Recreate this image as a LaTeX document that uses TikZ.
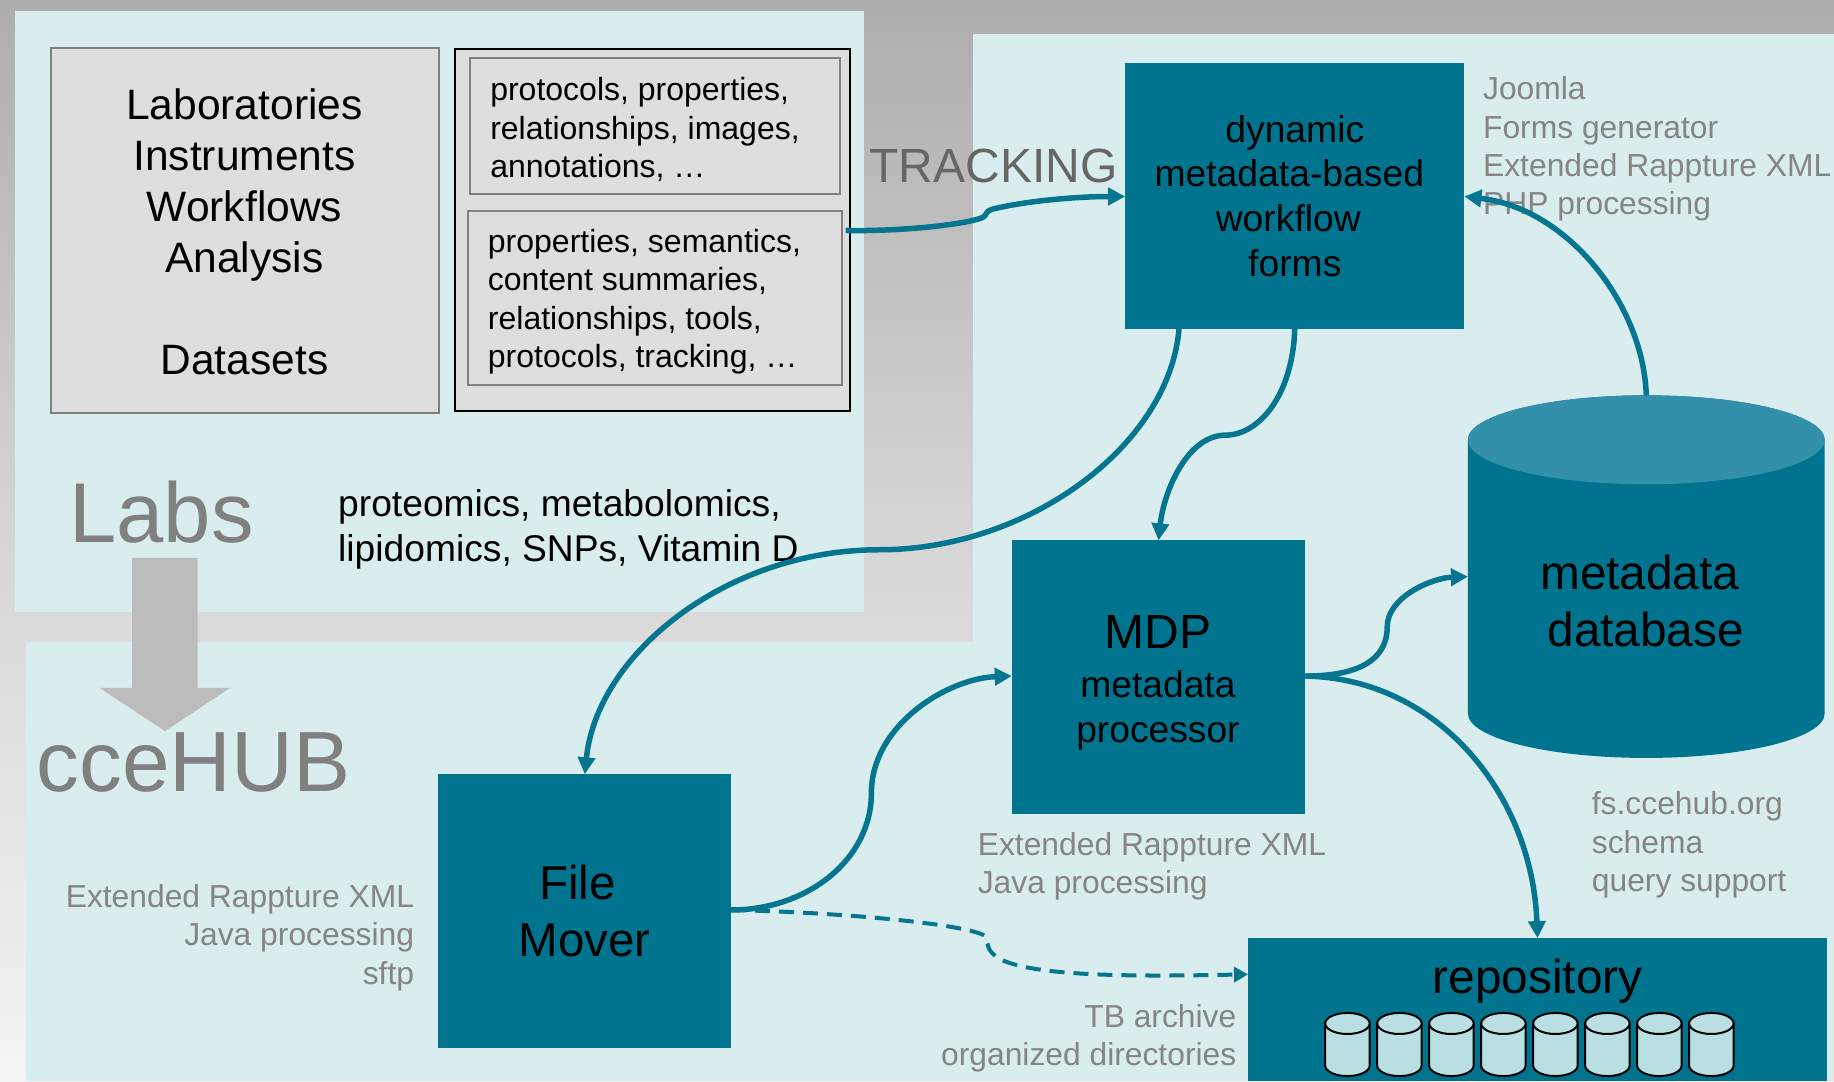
\documentclass[tikz,border=0pt]{standalone}
\usepackage{fontspec}
\setmainfont{Liberation Sans}
\usetikzlibrary{arrows.meta,calc}
\definecolor{panel}{HTML}{D9ECEE}
\definecolor{teal}{HTML}{00748F}
\definecolor{tealtop}{HTML}{3390AB}
\definecolor{flow}{HTML}{06758F}
\definecolor{boxgray}{HTML}{DEDEDE}
\definecolor{edgegray}{HTML}{808080}
\definecolor{note}{HTML}{858585}
\definecolor{bigarrow}{HTML}{BCBCBC}
\definecolor{minicyl}{HTML}{B9DFE2}
\definecolor{bgtop}{HTML}{ADADAD}
\definecolor{bgmid}{HTML}{D6D6D6}
\definecolor{bgbot}{HTML}{F4F4F4}
\tikzset{
  bx/.style n args={4}{anchor=north west,at={(#1,#2)},inner sep=0pt,outer sep=0pt,
    minimum width={1.1696*(#3-#1)*1pt},minimum height={1.1696*(#4-#2)*1pt}},
  graybox/.style={fill=boxgray,draw=edgegray,line width=2pt},
  blackbox/.style={fill=boxgray,draw=black,line width=2pt},
  tealbox/.style={fill=teal,text=black,align=center},
  inlist/.style={anchor=west,align=left,inner sep=0pt,font=\fontsize{32}{38.5}\selectfont},
  notes/.style={text=note,font=\fontsize{31.8}{38.4}\selectfont,inner sep=0pt,outer sep=0pt},
  flowline/.style={draw=flow,line width=5.5pt,-{Triangle[length=17pt,width=17pt]}},
}
\begin{document}
\begin{tikzpicture}[x=1.1696pt,y=-1.1696pt]
\useasboundingbox (0,0) rectangle (1568,924.25);
% background and panels
\shade[top color=bgtop,bottom color=bgbot,middle color=bgmid] (0,0) rectangle (1568,924.25);
\fill[panel] (13,9) rectangle (739,523);
\fill[panel] (832,29) rectangle (1568,549);
\fill[panel] (22,549) rectangle (1568,924.25);
% left boxes
\node[graybox,bx={44}{41}{375}{353}] (labs) {};
\node[align=center,inner sep=0pt,font=\fontsize{42.5}{51}\selectfont] (labsL) at (209,198) {Laboratories\\Instruments\\Workflows\\Analysis\\[51pt]Datasets};
\node[blackbox,bx={389}{42}{727}{351}] (outer) {};
\node[graybox,bx={402}{50}{718}{166}] (listA) {};
\node[inlist] (listAT) at (419,111) {protocols, properties,\\relationships, images,\\annotations, …};
\node[graybox,bx={400}{180}{720}{329}] (listB) {};
\node[inlist] (listBT) at (417,258) {properties, semantics,\\content summaries,\\relationships, tools,\\protocols, tracking, …};
% large labels
\node[text=edgegray,font=\fontsize{85}{90}\selectfont,inner sep=0pt] (labsT) at (138,438) {Labs};
\fill[bigarrow] (113,477) -- (169,477) -- (169,588) -- (197,588) -- (141,625) -- (85,588) -- (113,588) -- cycle;
\node[text=edgegray,font=\fontsize{85.5}{90}\selectfont,inner sep=0pt] (hubT) at (165.5,652) {cceHUB};
\node[text={rgb,255:red,102;green,102;blue,102},font=\fontsize{48}{52}\selectfont,inner sep=0pt] (trackT) at (849.5,142) {TRACKING};
\node[anchor=west,align=left,inner sep=0pt,font=\fontsize{37.2}{45}\selectfont] (omics) at (289,453) {proteomics, metabolomics,\\lipidomics, SNPs, Vitamin D};
% teal boxes
\node[tealbox,bx={962}{54}{1252}{281},font=\fontsize{37.3}{44.7}\selectfont] (wf) {dynamic\\metadata-based\hspace{11pt}\mbox{}\\workflow\hspace{13pt}\mbox{}\\forms};
\node[tealbox,bx={865}{462}{1116}{696}] (mdp) {};
\node[align=center,inner sep=0pt,font=\fontsize{37.2}{45}\selectfont] (mdpT) at (990,584) {{\fontsize{48}{54}\selectfont MDP}\\[4pt]metadata\\processor};
\node[tealbox,bx={374.5}{662}{625}{896},font=\fontsize{47.5}{57}\selectfont] (fm) {File\hspace{14pt}\mbox{}\\Mover};
\node[tealbox,bx={1067}{802}{1562}{924.25}] (repo) {};
\node[inner sep=0pt,font=\fontsize{47.8}{52}\selectfont] (repoT) at (1314.5,839) {repository};
% database cylinder
\fill[teal] (1255,376) arc[start angle=180,end angle=360,x radius=152.5,y radius=38] -- (1560,610) arc[start angle=0,end angle=180,x radius=152.5,y radius=38] -- cycle;
\fill[tealtop] (1407.5,376) ellipse[x radius=152.5,y radius=38];
\node[bx={1255}{338}{1560}{648}] (db) {};
\node[align=center,inner sep=0pt,font=\fontsize{47.7}{57}\selectfont] (dbT) at (1407,513.5) {metadata\hspace{12pt}\mbox{}\\database};
% mini cylinders
\foreach \i in {0,...,7}{
  \pgfmathsetmacro{\xa}{1133+44.45*\i}
  \pgfmathsetmacro{\xb}{\xa+38}
  \pgfmathsetmacro{\xc}{\xa+19}
  \filldraw[fill=minicyl,draw=black,line width=2pt] (\xa,875) -- (\xa,911) arc[start angle=180,end angle=0,x radius=19,y radius=9] -- (\xb,875) -- cycle;
  \filldraw[fill=minicyl,draw=black,line width=2pt] (\xc,875) ellipse[x radius=19,y radius=9];
}
% notes
\node[notes,anchor=west,align=left] (nA) at (1268,127.5) {Joomla\\Forms generator\\Extended Rappture XML\\PHP processing};
\node[notes,anchor=west,align=left] (nB) at (836,740.5) {Extended Rappture XML\\Java processing};
\node[notes,anchor=east,align=right] (nC) at (354,801.5) {Extended Rappture XML\\Java processing\\sftp};
\node[notes,anchor=west,align=left] (nD) at (1361,722.5) {fs.ccehub.org\\schema\\query support};
\node[notes,anchor=east,align=right] (nE) at (1057,887.5) {TB archive\\organized directories};
% connectors
\draw[flowline] ($(outer.east |- 723,197)+(-4,0)$) .. controls (770,198) and (825,192) .. (840,186) .. controls (844,184) and (842,181) .. (848,179) .. controls (875,172) and (920,168) .. (wf.west |- 962,168);
\draw[flowline] ($(wf.south west)+(46,0)$) .. controls (1000,380) and (880,470) .. (752,470) .. controls (620,470) and (510,560) .. (fm.north -| 500,662);
\draw[flowline] (wf.south) .. controls (1105,340) and (1075,372) .. (1048,372) .. controls (1015,372) and (995,420) .. (mdp.north);
\draw[flowline] (db.north) .. controls (1405,260) and (1340,178) .. (wf.east |- 1252,168);
\draw[flowline] (mdp.east |- 1116,578) .. controls (1160,578) and (1186,565) .. (1186,536) .. controls (1186,510) and (1225,494) .. (db.west);
\draw[flowline] (mdp.east |- 1116,578) .. controls (1230,580) and (1310,680) .. (repo.north);
\draw[flowline] (fm.east |- 625,778) .. controls (690,778) and (745,735) .. (745,678) .. controls (745,620) and (810,580) .. (mdp.west |- 865,578);
\draw[flowline,line width=4pt,dash pattern=on 15pt off 9pt,-{Triangle[length=14pt,width=15pt]}] (fm.east |- 625,778) .. controls (720,780) and (825,790) .. (842,800) .. controls (846,808) and (842,812) .. (855,820) .. controls (885,835) and (970,835) .. (repo.west |- 1067,833);
\end{tikzpicture}
\end{document}
